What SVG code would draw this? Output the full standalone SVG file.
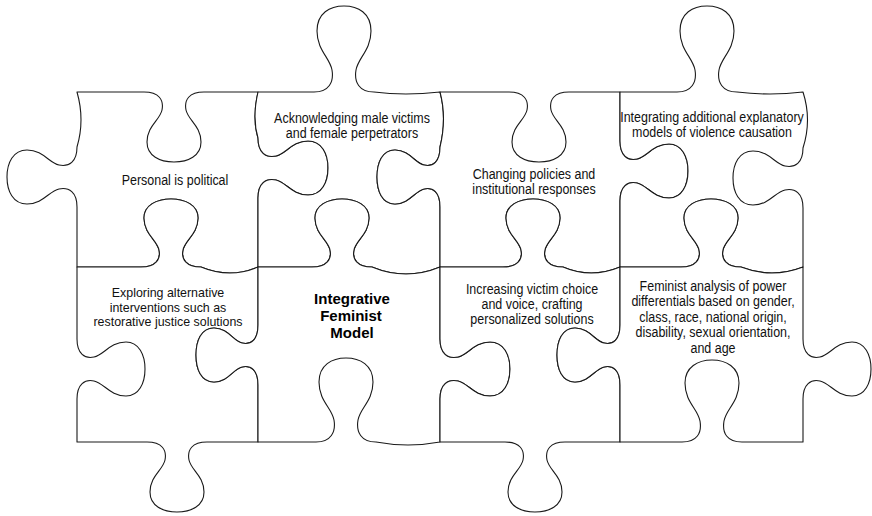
<svg xmlns="http://www.w3.org/2000/svg" width="872" height="516" viewBox="0 0 872 516">
<style>
.piece{fill:#fff;stroke:#1a1a1a;stroke-width:1.1;stroke-linejoin:round}
.lbl{font-family:"Liberation Sans",Arial,sans-serif;font-size:14px;fill:#111;text-anchor:middle}
.sm{font-size:13.5px}
.core{font-family:"Liberation Sans",Arial,sans-serif;font-size:15px;font-weight:bold;fill:#000;text-anchor:middle}
</style>
<rect x="0" y="0" width="872" height="516" fill="#fff"/>
<g id="piece-personal">
<path class="piece" d="M77,92 L144,92 C159,92 164,100 162,110 C160,120 147,126 147,142 C147,156 160,162 174,162 C188,162 201,156 201,142 C201,126 188,120 186,110 C184,100 189,92 204,92 L258,92 Q252,118 258,138 C258,153 266,158 276,156 C286,154 292,141 308,141 C322,141 328,154 328,168 C328,182 322,195 308,195 C292,195 286,182 276,180 C266,178 258,183 258,198 L258,267 Q230,279 201,267 C186,267 181,259 183,250 C185,240 198,234 198,218 C198,205 185,199 171,199 C157,199 144,205 144,218 C144,234 157,240 159,250 C161,259 156,267 141,267 L77,267 L77,207 C77,192 69,187 59,189 C49,191 43,204 27,204 C13,204 7,191 7,177 C7,163 13,150 27,150 C43,150 49,163 59,165 C69,167 77,162 77,147 Q85,120 77,92 Z"/>
<text class="lbl" transform="matrix(0.89 0 0 1 175 0)" x="0" y="185">Personal is political</text>
</g>
<g id="piece-acknowledging">
<path class="piece" d="M258,92 L314,92 C329,92 334,82 332,70 C330,58 317,50 317,31 C317,13 330,6 344,6 C358,6 371,13 371,31 C371,50 358,58 356,70 C354,82 359,92 374,92 Q405,96 440,92 Q447,118 440,147 C440,162 433,167 424,165 C415,163 409,150 395,150 C382,150 377,163 377,177 C377,191 382,204 395,204 C409,204 415,191 424,189 C433,187 440,192 440,207 L440,267 Q406,281 372,267 C357,267 352,259 354,250 C356,240 369,234 369,218 C369,205 356,199 342,199 C328,199 315,205 315,218 C315,234 328,240 330,250 C332,259 327,267 312,267 L258,267 L258,198 C258,183 266,178 276,180 C286,182 292,195 308,195 C322,195 328,182 328,168 C328,154 322,141 308,141 C292,141 286,154 276,156 C266,158 258,153 258,138 Q252,118 258,92 Z"/>
<text class="lbl" transform="matrix(0.89 0 0 1 352 0)" x="0" y="123">Acknowledging male victims</text>
<text class="lbl" transform="matrix(0.89 0 0 1 352 0)" x="0" y="138">and female perpetrators</text>
</g>
<g id="piece-changing">
<path class="piece" d="M440,92 L509,92 C524,92 529,100 527,110 C525,120 512,126 512,142 C512,156 525,162 539,162 C553,162 566,156 566,142 C566,126 553,120 551,110 C549,100 554,92 569,92 L620,92 L620,141 C620,156 628,161 637,159 C647,157 653,144 669,144 C682,144 688,157 688,171 C688,185 682,198 669,198 C653,198 647,185 637,183 C628,181 620,186 620,201 L620,267 Q591,279 563,267 C548,267 543,259 545,250 C547,240 560,234 560,218 C560,205 547,199 533,199 C519,199 506,205 506,218 C506,234 519,240 521,250 C523,259 518,267 503,267 L440,267 L440,207 C440,192 433,187 424,189 C415,191 409,204 395,204 C382,204 377,191 377,177 C377,163 382,150 395,150 C409,150 415,163 424,165 C433,167 440,162 440,147 Q447,118 440,92 Z"/>
<text class="lbl" transform="matrix(0.89 0 0 1 534 0)" x="0" y="179">Changing policies and</text>
<text class="lbl" transform="matrix(0.89 0 0 1 534 0)" x="0" y="194">institutional responses</text>
</g>
<g id="piece-integrating">
<path class="piece" d="M620,92 L677,92 C692,92 697,82 695,70 C693,58 680,50 680,31 C680,13 693,6 707,6 C721,6 734,13 734,31 C734,50 721,58 719,70 C717,82 722,92 737,92 Q770,96 803,92 Q812,120 803,148 C803,163 795,168 785,166 C775,164 769,151 753,151 C739,151 733,164 733,178 C733,192 739,205 753,205 C769,205 775,192 785,190 C795,188 803,193 803,208 L803,267 Q772,279 741,267 C726,267 721,259 723,250 C725,240 738,234 738,218 C738,205 725,199 711,199 C697,199 684,205 684,218 C684,234 697,240 699,250 C701,259 696,267 681,267 L620,267 L620,201 C620,186 628,181 637,183 C647,185 653,198 669,198 C682,198 688,185 688,171 C688,157 682,144 669,144 C653,144 647,157 637,159 C628,161 620,156 620,141 Z"/>
<text class="lbl" transform="matrix(0.89 0 0 1 712 0)" x="0" y="122">Integrating additional explanatory</text>
<text class="lbl" transform="matrix(0.89 0 0 1 712 0)" x="0" y="137">models of violence causation</text>
</g>
<g id="piece-exploring">
<path class="piece" d="M77,267 L141,267 C156,267 161,259 159,250 C157,240 144,234 144,218 C144,205 157,199 171,199 C185,199 198,205 198,218 C198,234 185,240 183,250 C181,259 186,267 201,267 Q230,279 258,267 L258,325 C258,340 251,345 242,343 C233,341 228,328 214,328 C201,328 196,341 196,355 C196,369 201,382 214,382 C228,382 233,369 242,367 C251,365 258,370 258,385 L258,442 L207,442 C192,442 187,450 189,460 C191,470 204,476 204,492 C204,506 191,512 177,512 C163,512 150,506 150,492 C150,476 163,470 165,460 C167,450 162,442 147,442 L77,442 L77,399 C77,384 85,379 94,381 C104,383 110,396 126,396 C139,396 145,383 145,369 C145,355 139,342 126,342 C110,342 104,355 94,357 C85,359 77,354 77,339 Z"/>
<text class="lbl sm" transform="matrix(0.92 0 0 1 168 0)" x="0" y="297.5">Exploring alternative</text>
<text class="lbl sm" transform="matrix(0.92 0 0 1 168 0)" x="0" y="312">interventions such as</text>
<text class="lbl sm" transform="matrix(0.92 0 0 1 168 0)" x="0" y="326.5">restorative justice solutions</text>
</g>
<g id="piece-core">
<path class="piece" d="M258,267 L312,267 C327,267 332,259 330,250 C328,240 315,234 315,218 C315,205 328,199 342,199 C356,199 369,205 369,218 C369,234 356,240 354,250 C352,259 357,267 372,267 Q406,281 440,267 L440,339 C440,354 448,359 458,357 C468,355 474,342 490,342 C504,342 510,355 510,369 C510,383 504,396 490,396 C474,396 468,383 458,381 C448,379 440,384 440,399 L440,442 Q408,448 376,442 C361,442 356,432 358,420 C360,408 373,401 373,382 C373,365 360,358 346,358 C332,358 319,365 319,382 C319,401 332,408 334,420 C336,432 331,442 316,442 L258,442 L258,385 C258,370 251,365 242,367 C233,369 228,382 214,382 C201,382 196,369 196,355 C196,341 201,328 214,328 C228,328 233,341 242,343 C251,345 258,340 258,325 Z"/>
<text class="core" x="352" y="304">Integrative</text>
<text class="core" x="351" y="321">Feminist</text>
<text class="core" x="352" y="338">Model</text>
</g>
<g id="piece-increasing">
<path class="piece" d="M440,267 L503,267 C518,267 523,259 521,250 C519,240 506,234 506,218 C506,205 519,199 533,199 C547,199 560,205 560,218 C560,234 547,240 545,250 C543,259 548,267 563,267 Q591,279 620,267 L620,325 C620,340 613,345 604,343 C595,341 589,328 575,328 C562,328 557,341 557,355 C557,369 562,382 575,382 C589,382 595,369 604,367 C613,365 620,370 620,385 L620,442 L565,442 C550,442 545,450 547,460 C549,470 562,476 562,492 C562,506 549,512 535,512 C521,512 508,506 508,492 C508,476 521,470 523,460 C525,450 520,442 505,442 L440,442 L440,399 C440,384 448,379 458,381 C468,383 474,396 490,396 C504,396 510,383 510,369 C510,355 504,342 490,342 C474,342 468,355 458,357 C448,359 440,354 440,339 Z"/>
<text class="lbl" transform="matrix(0.89 0 0 1 532 0)" x="0" y="294">Increasing victim choice</text>
<text class="lbl" transform="matrix(0.89 0 0 1 532 0)" x="0" y="309">and voice, crafting</text>
<text class="lbl" transform="matrix(0.89 0 0 1 532 0)" x="0" y="324">personalized solutions</text>
</g>
<g id="piece-analysis">
<path class="piece" d="M620,267 L681,267 C696,267 701,259 699,250 C697,240 684,234 684,218 C684,205 697,199 711,199 C725,199 738,205 738,218 C738,234 725,240 723,250 C721,259 726,267 741,267 Q772,279 803,267 L803,339 C803,354 811,359 820,357 C830,355 836,342 852,342 C865,342 871,355 871,369 C871,383 865,396 852,396 C836,396 830,383 820,381 C811,379 803,384 803,399 L803,442 L742,442 C727,442 722,433 724,421 C726,409 739,402 739,383 C739,367 726,360 712,360 C698,360 685,367 685,383 C685,402 698,409 700,421 C702,433 697,442 682,442 L620,442 L620,385 C620,370 613,365 604,367 C595,369 589,382 575,382 C562,382 557,369 557,355 C557,341 562,328 575,328 C589,328 595,341 604,343 C613,345 620,340 620,325 Z"/>
<text class="lbl" transform="matrix(0.89 0 0 1 713 0)" x="0" y="291">Feminist analysis of power</text>
<text class="lbl" transform="matrix(0.89 0 0 1 713 0)" x="0" y="306.5">differentials based on gender,</text>
<text class="lbl" transform="matrix(0.89 0 0 1 713 0)" x="0" y="322">class, race, national origin,</text>
<text class="lbl" transform="matrix(0.89 0 0 1 713 0)" x="0" y="337.5">disability, sexual orientation,</text>
<text class="lbl" transform="matrix(0.89 0 0 1 713 0)" x="0" y="353">and age</text>
</g>
</svg>
